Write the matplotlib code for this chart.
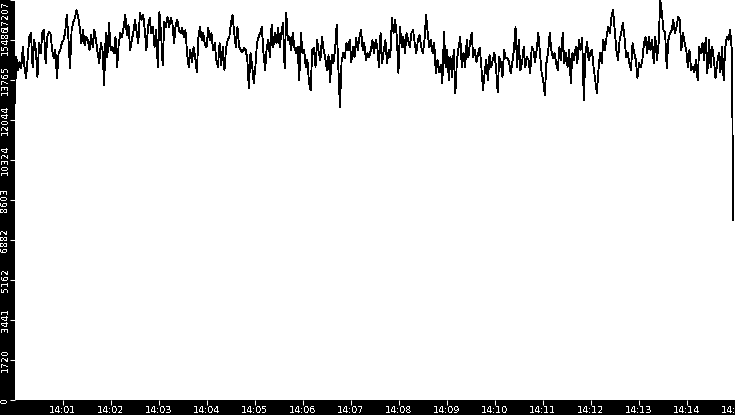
import matplotlib
matplotlib.use("Agg")
import matplotlib.pyplot as plt
import matplotlib.dates as mdates
import pandas as pd
import numpy as np

# ---- data ----
seg_a = [12765, 14749, 14188, 14533, 14274, 15180, 14317, 13843, 14749, 15611, 15784, 14317, 15482, 15050, 13886,
         15352, 14921, 15784, 15913, 14490, 15611, 15827, 15784, 15050, 14705, 15050, 13843, 14921, 15050, 15352,
         15482, 15784, 16560, 15611, 14274, 15913, 16258, 16431, 16776, 16474, 16043, 15352, 15913, 15266, 15611,
         15482, 15050, 15697, 15180, 15913, 15482, 14921, 14490, 15352, 15050, 13541, 15784, 14749, 16215, 15050,
         15180, 14921, 15611, 14317, 15352, 15784, 15611, 16043, 16560, 15697, 16129, 15050, 15482]
seg_b = [15827, 16345, 15827, 15352, 16646, 16345, 16560, 15913, 15050, 16043, 16431, 15784, 16043, 15180, 15913,
         14317, 16689, 15784, 14404, 16258, 16043, 16474, 16043, 16431, 16215, 15352, 16129, 16345, 15913, 15784,
         15999, 15611, 15913, 14921, 14317, 15050, 14533, 15180, 14749, 14102, 15611, 16043, 15482, 15784, 15266,
         15180, 15999, 15482, 15784, 15050, 15352, 14619, 14317, 15352, 14404, 15180, 14188, 15137, 15482, 15611,
         16215, 16560, 15784, 15180, 16043, 15180, 15050, 14964]
seg_c = [15137, 15050, 14705, 13412, 14921, 14404, 13627, 14317, 15352, 15611, 15784, 16043, 14921, 14188, 15180,
         15482, 14749, 16129, 15180, 15784, 15352, 15999, 15180, 15784, 16215, 14274, 16646, 15482, 15611, 15050,
         15784, 15180, 14921, 15180, 13757, 15784, 14921, 15050, 14317, 14619, 13627, 13325, 15050, 15137, 14317,
         15482, 14921, 14619, 15611, 15050, 14705, 14188, 14835, 13670, 14835, 14490, 15050, 16129, 14317, 12592,
         14533, 14921, 14705, 15352, 15050, 15482, 14533, 15180, 14749, 15568, 15050, 15611, 15913, 15050, 15352,
         14619, 14921, 14749, 15050, 15482, 14921, 15482, 15180, 14317, 15784, 14490, 15050, 15482, 14490, 15050,
         14749, 16431, 15784, 16345, 15611, 14058, 16043, 15180, 15611, 14921, 15784, 15482, 15180, 15784, 15913,
         15352, 14921, 15482, 15697, 15180, 14921, 15482, 16560, 15784, 15180, 15482, 14921, 15352, 14058, 14619,
         14102, 14404, 13627, 15827, 14317, 15050, 13757, 14749, 13886, 15050, 13196, 14619, 15180, 15611, 14317,
         14921, 14317, 15482, 14749, 15352, 15784, 14749, 15050, 14533, 14921, 15137, 14317, 13325, 14058, 14619,
         13757, 14835, 14317]
seg_d = [14619, 14921, 14317, 13239, 14749, 14490, 13886, 15050, 14705, 14705, 14533, 14058, 14490, 15050, 16043,
         14317, 15482, 14188, 14490, 15180, 14317, 14749, 14619, 14058, 15180, 15050, 14533, 15050, 15784, 14921,
         14102, 13757, 13110, 14490, 14921, 15784, 15050, 14705, 14921, 14490, 14188, 15180, 14619, 15784, 14490,
         14921, 14317, 15050, 13627, 14921, 14619, 15180, 14490, 15482, 15050, 15568, 12894, 14921, 15396, 14619,
         14921, 15050, 14317, 13757, 13196, 14188, 14921, 14490, 15482, 15050, 15611, 16043, 15784, 16474, 16776,
         15913, 15050, 14619, 15482, 15784, 16215, 15611, 14749, 14921, 14490, 14188, 15352, 14921, 14619, 13843,
         14490, 14317, 14619, 15352, 15611, 14921, 15611, 15050, 15482, 14490, 15611, 14619, 15352, 17207, 16646,
         15913, 15784, 14274, 15482, 15784, 15913, 16345, 15784, 16043, 16474, 16345, 15050, 15784, 15352, 15050,
         14317, 15050, 14188, 14317, 14102, 14619, 13757, 15180, 14921, 15352, 14619, 15568, 14058, 15482, 14317,
         15180, 14619, 13843, 14490, 14921, 14102, 15180, 13757, 15180, 15611, 15482, 15913, 15050, 7718]
values = seg_a + seg_b + seg_c + seg_d

start_time = "2024-01-01 14:00:00"
end_time = "2024-01-01 14:14:58"
x_min = "2024-01-01 14:00:00"
x_max = "2024-01-01 14:15:00"
y_max = 17207
y_tick_labels = ["0", "1720", "3441", "5162", "6882", "8603", "10324", "12044", "13765", "15486", "17207"]
x_tick_times = pd.date_range("2024-01-01 14:01:00", "2024-01-01 14:15:00", freq="1min")

times = pd.date_range(start_time, end_time, periods=len(values))

plt.rcParams["text.antialiased"] = False
plt.rcParams["font.family"] = ["DejaVu Sans"]

# ---- figure ----
W, H, DPI = 735, 415, 100
fig = plt.figure(figsize=(W / DPI, H / DPI), dpi=DPI, facecolor="black")
left_px, bottom_px = 14.7, 15.5
ax = fig.add_axes([left_px / W, bottom_px / H, 1 - left_px / W, 1 - bottom_px / H])
ax.set_facecolor("white")

ax.plot(times, values, color="black", linewidth=0.6, antialiased=False)

ax.set_xlim(pd.Timestamp(x_min), pd.Timestamp(x_max))
ax.set_ylim(0, y_max)

ax.set_xticks(x_tick_times)
ax.xaxis.set_major_formatter(mdates.DateFormatter("%H:%M"))
ax.set_yticks(np.linspace(0, y_max, len(y_tick_labels)))
ax.set_yticklabels(y_tick_labels, rotation=90, va="center")
ax.get_yticklabels()[-1].set_va("top")

for s in ax.spines.values():
    s.set_visible(False)

ax.tick_params(axis="both", colors="white", labelcolor="white", length=3.5, width=0.75,
               labelsize=6.8)
ax.tick_params(axis="x", pad=1.0)
ax.tick_params(axis="y", pad=0.0)

fig.savefig("out.png", dpi=DPI, facecolor="black")
